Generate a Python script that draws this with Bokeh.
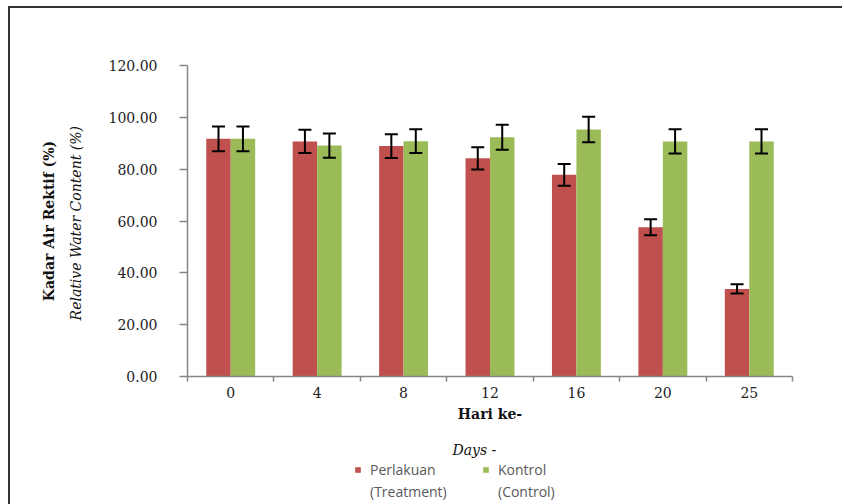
from bokeh.plotting import figure
from bokeh.layouts import column
from bokeh.models import (ColumnDataSource, Whisker, TeeHead, LinearAxis, FixedTicker,
                          NumeralTickFormatter, Range1d, Legend, LegendItem, Title)
from bokeh.transform import dodge
from bokeh.embed import file_html
from bokeh.resources import INLINE

days = ["0", "4", "8", "12", "16", "20", "25"]
treatment = [91.7, 90.7, 88.9, 84.2, 77.8, 57.6, 33.8]
treatment_err = [4.8, 4.5, 4.6, 4.3, 4.2, 3.1, 1.8]
control = [91.7, 89.1, 90.8, 92.3, 95.3, 90.7, 90.7]
control_err = [4.8, 4.7, 4.6, 4.8, 4.9, 4.7, 4.7]
y_ticks = [0, 20, 40, 60, 80, 100, 120]
series_names = ["Perlakuan", "Kontrol"]
series_notes = ["(Treatment)", "(Control)"]

RED = "#C0504D"
GREEN = "#9BBB59"
AXIS = "#868686"
SERIF = "DejaVu Serif"

pos = [i + 0.5 for i in range(len(days))]
src = ColumnDataSource(dict(
    x=pos,
    t=treatment, t_lo=[v - e for v, e in zip(treatment, treatment_err)],
    t_hi=[v + e for v, e in zip(treatment, treatment_err)],
    c=control, c_lo=[v - e for v, e in zip(control, control_err)],
    c_hi=[v + e for v, e in zip(control, control_err)],
))

p = figure(width=832, height=421, output_backend="svg", toolbar_location=None,
           x_range=Range1d(0, len(days)), y_range=Range1d(0, 120),
           min_border_left=177, min_border_right=50, min_border_top=57, min_border_bottom=53)
p.outline_line_color = None
p.xgrid.visible = False
p.ygrid.visible = False
p.background_fill_color = "white"
p.border_fill_color = "white"

bw = 0.283
r1 = p.vbar(x=dodge("x", -bw / 2), top="t", width=bw, source=src, fill_color=RED, line_color=None)
r2 = p.vbar(x=dodge("x", bw / 2), top="c", width=bw, source=src, fill_color=GREEN, line_color=None)

for xs, lo, hi in [(-bw / 2, "t_lo", "t_hi"), (bw / 2, "c_lo", "c_hi")]:
    w = Whisker(base=dodge("x", xs), lower=lo, upper=hi, source=src, level="overlay",
                line_color="black", line_width=2,
                upper_head=TeeHead(size=13, line_color="black", line_width=2),
                lower_head=TeeHead(size=13, line_color="black", line_width=2))
    p.add_layout(w)

# y axis
ya = p.yaxis[0]
ya.ticker = FixedTicker(ticks=y_ticks)
ya.formatter = NumeralTickFormatter(format="0.00")
ya.axis_line_color = AXIS
ya.axis_line_width = 1.5
ya.major_tick_line_color = AXIS
ya.major_tick_line_width = 1.5
ya.major_tick_out = 8
ya.major_tick_in = 0
ya.minor_tick_line_color = None
ya.major_label_standoff = 22
ya.major_label_text_font = SERIF
ya.major_label_text_font_size = "14px"
ya.major_label_text_color = "#222222"
ya.axis_label = "Relative  Water Content (%)"
ya.axis_label_text_font = SERIF
ya.axis_label_text_font_style = "italic"
ya.axis_label_text_font_size = "14px"
ya.axis_label_text_color = "#111111"
ya.axis_label_standoff = 22

ya2 = LinearAxis(ticker=FixedTicker(ticks=[]), axis_line_color=None,
                 major_tick_line_color=None, minor_tick_line_color=None,
                 major_label_text_font_size="0px", major_label_standoff=0,
                 major_tick_out=0, major_tick_in=0,
                 axis_label="Kadar Air Rektif (%)", axis_label_text_font=SERIF,
                 axis_label_text_font_style="bold", axis_label_text_font_size="14px",
                 axis_label_text_color="#111111", axis_label_standoff=8)
p.add_layout(ya2, "left")

# x axis
xa = p.xaxis[0]
xa.ticker = FixedTicker(ticks=pos, minor_ticks=list(range(len(days) + 1)))
xa.major_label_overrides = {x: d for x, d in zip(pos, days)}
xa.axis_line_color = AXIS
xa.axis_line_width = 1.5
xa.major_tick_line_color = None
xa.major_tick_out = 0
xa.major_tick_in = 0
xa.minor_tick_line_color = AXIS
xa.minor_tick_line_width = 1.5
xa.minor_tick_out = 5
xa.minor_tick_in = 0
xa.major_label_standoff = 5
xa.major_label_text_font = SERIF
xa.major_label_text_font_size = "14px"
xa.major_label_text_color = "#222222"
xa.axis_label = "Hari ke-"
xa.axis_label_text_font = SERIF
xa.axis_label_text_font_style = "bold"
xa.axis_label_text_font_size = "14px"
xa.axis_label_text_color = "#111111"
xa.axis_label_standoff = 5

# lower strip: "Days -" and the legend
leg = figure(width=832, height=75, output_backend="svg", toolbar_location=None,
             x_range=Range1d(0, len(days)), y_range=Range1d(0, 120),
             x_axis_type=None, y_axis_type=None,
             min_border=0, min_border_top=29, outline_line_color=None)
leg.xgrid.visible = False
leg.ygrid.visible = False
t2 = Title(text="Days -", align="left", offset=265, text_font=SERIF, text_font_style="italic",
           text_font_size="14px", text_color="#111111", standoff=1)
leg.add_layout(t2, "above")

g1 = leg.vbar(x="x", top="t", width=bw, source=src, fill_color=RED, line_color=None, visible=False)
g2 = leg.vbar(x="x", top="c", width=bw, source=src, fill_color=GREEN, line_color=None, visible=False)
g0 = leg.vbar(x="x", top="t", width=bw, source=src, fill_alpha=0, line_alpha=0, visible=False)
legend = Legend(items=[LegendItem(label=series_names[0], renderers=[g1]),
                       LegendItem(label=series_notes[0], renderers=[g0]),
                       LegendItem(label=series_names[1], renderers=[g2]),
                       LegendItem(label=series_notes[1], renderers=[g0])],
                orientation="vertical", nrows=2, location=(167, 3),
                label_text_font="Open Sans", label_text_font_size="14px",
                label_text_color="#595959", glyph_width=7, glyph_height=7,
                label_height=20, label_width=110, spacing=2, padding=0, margin=0,
                label_standoff=9, inactive_fill_alpha=0,
                border_line_color=None, background_fill_alpha=0)
leg.add_layout(legend)

layout = column(p, leg, spacing=0)
layout.styles = {"border-left": "2px solid #333333", "border-top": "2px solid #333333",
                 "margin-left": "8px", "margin-top": "6px"}

open("out.html", "w").write(file_html(layout, INLINE))
